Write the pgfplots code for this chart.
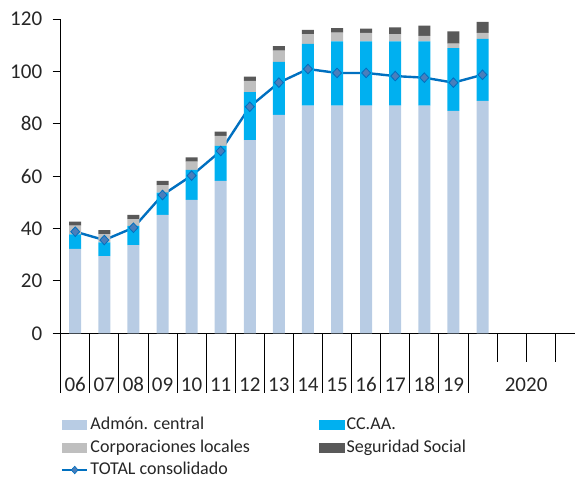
\documentclass[border=0pt]{standalone}
\usepackage{pgfplots}
\pgfplotsset{compat=1.18}
\usepackage{pgfplotstable}
\usepackage{fontspec}
\setmainfont{Carlito}
\definecolor{cAdm}{HTML}{B8CCE4}
\definecolor{cCCAA}{HTML}{00B0F0}
\definecolor{cCL}{HTML}{BFBFBF}
\definecolor{cSS}{HTML}{595959}
\definecolor{cTot}{HTML}{0070C0}
\definecolor{cMark}{HTML}{4A7EBB}
\pgfplotstableread{
x adm ccaa cl ss tot
0 32.2 5.6 3.3 1.5 38.8
1 29.5 5.2 3.2 1.5 35.6
2 33.7 7.3 2.6 1.6 40.3
3 45.2 8.5 2.9 1.6 52.8
4 50.9 11.5 3.1 1.7 60.2
5 58.2 13.4 3.8 1.6 69.6
6 73.8 18.3 4.3 1.6 86.5
7 83.4 20.2 4.3 1.7 95.7
8 86.9 23.6 3.7 1.6 100.9
9 86.9 24.6 3.3 1.7 99.4
10 86.9 24.6 3.2 1.6 99.4
11 86.9 24.6 2.7 2.6 98.2
12 86.9 24.6 2.1 3.9 97.6
13 84.9 24.0 1.7 4.7 95.7
14 88.7 23.7 2.3 4.2 98.7
}\datatable
\begin{document}
\begin{tikzpicture}
\useasboundingbox (-60.7pt,-144.7pt) rectangle (514.3pt,333.3pt);
\begin{axis}[
  at={(0pt,0pt)}, anchor=south west,
  scale only axis, width=514.3pt, height=314.3pt,
  xmin=-0.5, xmax=17.18, ymin=0, ymax=120,
  clip=false,
  axis x line*=bottom, axis y line*=left,
  axis line style={black, line width=0.9pt},
  ybar stacked, bar width=12pt,
  ytick={0,20,...,120}, tick align=outside, major tick length=8pt,
  ytick style={black, line width=0.9pt},
  xtick={0,1,2,3,4,5,6,7,8,9,10,11,12,13,15.5},
  xticklabels={06,07,08,09,10,11,12,13,14,15,16,17,18,19,2020},
  xtick style={draw=none},
  xticklabel style={anchor=base, yshift=-50pt},
  yticklabel style={anchor=east, xshift=-7pt},
  /pgf/number format/assume math mode=true,
  tick label style={font=\fontsize{21}{24}\selectfont, text=black!85},
  legend columns=2,
  legend style={draw=none, at={(axis description cs:0,0)}, anchor=north west,
    xshift=0pt, yshift=-82pt, inner sep=0pt,
    font=\fontsize{18}{21}\selectfont, text=black!85,
    nodes={inner sep=1pt, text height=13pt, text depth=4pt, anchor=west},
    column sep=1pt, row sep=3.5pt,
    /tikz/every even column/.append style={column sep=68pt}},
  legend cell align=left,
]
\addplot[fill=cAdm, draw=none, legend image code/.code={\fill[cAdm] (0pt,-5pt) rectangle (25.6pt,5pt);}] table[x=x,y=adm]{\datatable};
\addlegendentry{Admón. central}
\addplot[fill=cCCAA, draw=none, legend image code/.code={\fill[cCCAA] (0pt,-5pt) rectangle (25.6pt,5pt);}] table[x=x,y=ccaa]{\datatable};
\addlegendentry{CC.AA.}
\addplot[fill=cCL, draw=none, legend image code/.code={\fill[cCL] (0pt,-5pt) rectangle (25.6pt,5pt);}] table[x=x,y=cl]{\datatable};
\addlegendentry{Corporaciones locales}
\addplot[fill=cSS, draw=none, legend image code/.code={\fill[cSS] (0pt,-5pt) rectangle (25.6pt,5pt);}] table[x=x,y=ss]{\datatable};
\addlegendentry{Seguridad Social}
\addplot[sharp plot, stack plots=false, color=cTot, line width=2.4pt,
  mark=diamond*, mark size=4.8pt, mark options={fill=cMark, draw=cTot, line width=0.8pt, xscale=1.25},
  legend image code/.code={\draw[cTot, line width=2pt] (0pt,0pt) -- (25.6pt,0pt);
    \draw[cTot, fill=cMark, line width=0.6pt] (12.8pt,3.8pt) -- (16.2pt,0pt) -- (12.8pt,-3.8pt) -- (9.4pt,0pt) -- cycle;}]
  table[x=x,y=tot]{\datatable};
\addlegendentry{TOTAL consolidado}
\pgfplotsinvokeforeach{-0.5,0.5,1.5,2.5,3.5,4.5,5.5,6.5,7.5,8.5,9.5,10.5,11.5,12.5,13.5}{
  \draw[black, line width=0.9pt] (axis cs:#1,0) -- ++(0pt,-59.7pt);
}
\pgfplotsinvokeforeach{14.5,15.5,16.5}{
  \draw[black, line width=0.9pt] (axis cs:#1,0) -- ++(0pt,-29pt);
}
\end{axis}
\end{tikzpicture}
\end{document}
